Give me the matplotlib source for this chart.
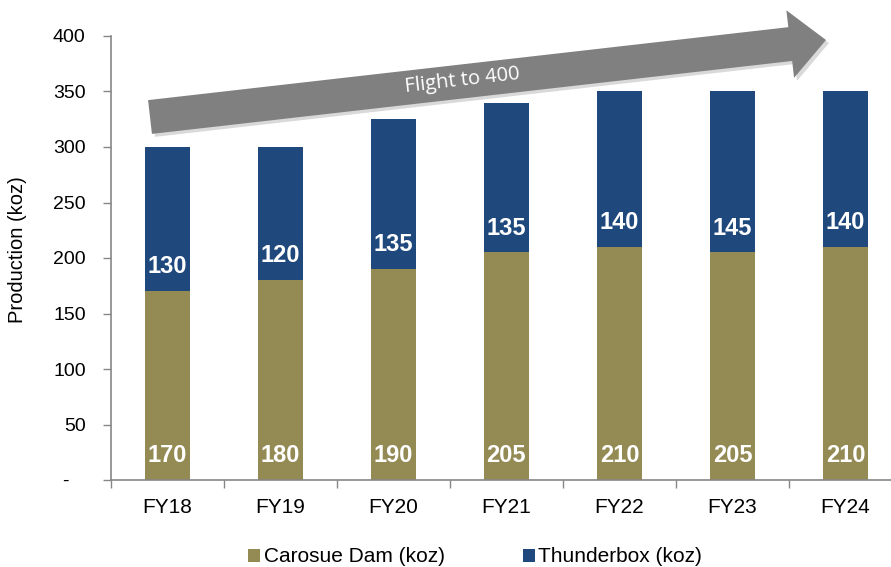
import numpy as np
import matplotlib
matplotlib.use("Agg")
import matplotlib.pyplot as plt
from matplotlib.patches import Polygon

# data
years     = ["FY18", "FY19", "FY20", "FY21", "FY22", "FY23", "FY24"]
carosue   = [170, 180, 190, 205, 210, 205, 210]
thunder   = [130, 120, 135, 135, 140, 145, 140]
y_ticks   = [0, 50, 100, 150, 200, 250, 300, 350, 400]
y_labels  = ["-   ", "50", "100", "150", "200", "250", "300", "350", "400"]

OLIVE = "#948A54"
NAVY  = "#1F497D"
GREY  = "#868686"

plt.rcParams["font.family"] = ["Liberation Sans", "DejaVu Sans"]

W, H = 891, 567
fig = plt.figure(figsize=(W / 100, H / 100), dpi=100)
ax = fig.add_axes([110.7 / W, (H - 480) / H, (902 - 110.7) / W, 444 / H])

x = np.arange(len(years))
bw = 0.40
ax.bar(x, carosue, bw, color=OLIVE, label="Carosue Dam (koz)", zorder=2)
ax.bar(x, thunder, bw, bottom=carosue, color=NAVY, label="Thunderbox (koz)", zorder=2)

# value labels, sitting near the base of each segment
for xi, c, t in zip(x, carosue, thunder):
    ax.text(xi, 22, str(c), ha="center", va="center", color="white",
            fontsize=17, fontweight="bold", zorder=3)
    ax.text(xi, c + 22, str(t), ha="center", va="center", color="white",
            fontsize=17, fontweight="bold", zorder=3)

ax.set_xlim(-0.5, len(years) - 0.5)
ax.set_ylim(0, 400)
ax.set_yticks(y_ticks)
ax.set_yticklabels(y_labels)
ax.set_xticks(x)
ax.set_xticklabels(years)
ax.set_xticks(np.arange(len(years) + 1) - 0.5, minor=True)

ax.tick_params(axis="y", length=6, width=1, color=GREY, pad=12, labelsize=14)
ax.tick_params(axis="x", which="major", length=0, pad=13, labelsize=15)
ax.tick_params(axis="x", which="minor", length=6, width=1, color=GREY)
for s in ["top", "right"]:
    ax.spines[s].set_visible(False)
for s in ["left", "bottom"]:
    ax.spines[s].set_color(GREY)
    ax.spines[s].set_linewidth(1.2)

fig.text(18 / W, 1 - 250 / H, "Production (koz)", rotation=90, ha="center",
         va="center", fontsize=14.5)

ax.legend(loc="center", bbox_to_anchor=(475 / W, 10 / H), bbox_transform=fig.transFigure,
          ncol=2, frameon=False, fontsize=15, handlelength=0.6, handleheight=0.6,
          handletextpad=0.15, columnspacing=3.75, borderaxespad=0)

# "Flight to 400" block arrow, built in pixel space then mapped to figure fraction
p0 = np.array([150.0, 117.0])   # tail centre (px from top-left)
p1 = np.array([826.0, 40.0])    # tip
body_w, head_w, head_l = 34.0, 68.0, 36.0
d = (p1 - p0) / np.linalg.norm(p1 - p0)
n = np.array([-d[1], d[0]])
hb = p1 - d * head_l
pts = [p0 + n * body_w / 2, hb + n * body_w / 2, hb + n * head_w / 2, p1,
       hb - n * head_w / 2, hb - n * body_w / 2, p0 - n * body_w / 2]
pts = np.array(pts)


def to_fig(p, dx=0.0, dy=0.0):
    return np.column_stack([(p[:, 0] + dx) / W, 1 - (p[:, 1] + dy) / H])


fig.patches.append(Polygon(to_fig(pts, 3, 3), closed=True, transform=fig.transFigure,
                           facecolor="#000000", alpha=0.15, edgecolor="none", zorder=4))
fig.patches.append(Polygon(to_fig(pts), closed=True, transform=fig.transFigure,
                           facecolor="#808080", edgecolor="none", zorder=5))
ang = np.degrees(np.arctan2(-(p1[1] - p0[1]), p1[0] - p0[0]))
fig.text(462 / W, 1 - 81 / H, "Flight to 400", rotation=ang, rotation_mode="anchor",
         ha="center", va="center", color="white", fontsize=14.5, family="Open Sans",
         zorder=6)

fig.savefig("out.png", dpi=100)
